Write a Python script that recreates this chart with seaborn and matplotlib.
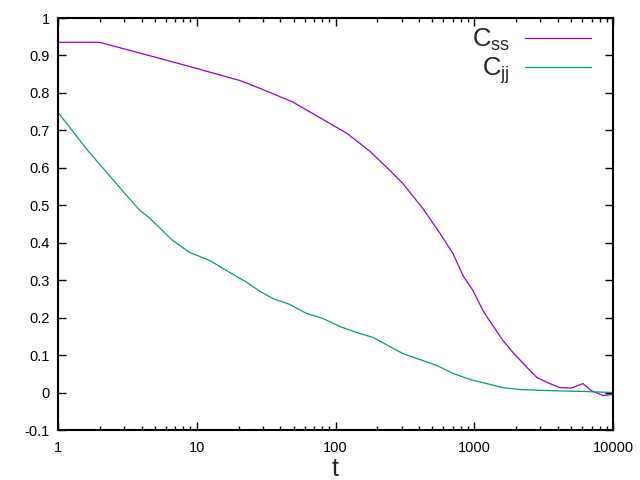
import numpy as np
import pandas as pd
import matplotlib
matplotlib.use('Agg')
import matplotlib.pyplot as plt
from matplotlib.ticker import FixedLocator, LogLocator, NullFormatter, FuncFormatter
import seaborn as sns

# values
t_ss = [1, 2, 7, 20.5, 28.6, 49, 77, 121, 177, 239, 306, 427, 566, 703, 830,
        980, 1156, 1298, 1611, 1900, 2400, 2830, 3500, 4150, 5000, 6080, 7000,
        8470, 10000]
c_ss = [0.935, 0.935, 0.881, 0.833, 0.812, 0.776, 0.734, 0.692, 0.644, 0.598,
        0.558, 0.491, 0.425, 0.371, 0.312, 0.272, 0.219, 0.190, 0.139, 0.107,
        0.067, 0.040, 0.024, 0.013, 0.012, 0.024, 0.005, -0.008, -0.005]

t_jj = [1, 1.64, 2.18, 3.04, 3.9, 4.6, 6.7, 8.9, 12.5, 17.4, 23, 28.6, 35.4, 47,
        62, 81, 108, 143, 187, 306, 540, 703, 930, 1611, 2140, 3516, 6000, 10000]
c_jj = [0.748, 0.646, 0.593, 0.531, 0.486, 0.465, 0.406, 0.374, 0.352, 0.320,
        0.294, 0.270, 0.251, 0.235, 0.211, 0.198, 0.176, 0.160, 0.147, 0.104,
        0.072, 0.051, 0.035, 0.013, 0.008, 0.005, 0.003, 0.0]

x_ticks = [1, 10, 100, 1000, 10000]
y_ticks = [-0.1, 0, 0.1, 0.2, 0.3, 0.4, 0.5, 0.6, 0.7, 0.8, 0.9, 1]

sns.set_theme(style='ticks')
plt.rcParams['font.family'] = ['Liberation Sans', 'DejaVu Sans']
plt.rcParams['mathtext.fontset'] = 'custom'
plt.rcParams['mathtext.rm'] = 'Liberation Sans'
plt.rcParams['mathtext.it'] = 'Liberation Sans'

df_ss = pd.DataFrame({'t': t_ss, 'C': c_ss})
df_jj = pd.DataFrame({'t': t_jj, 'C': c_jj})

fig = plt.figure(figsize=(6.4, 4.8), dpi=100)
ax = fig.add_axes([58 / 640, 1 - 430 / 480, (613 - 58) / 640, (430 - 18) / 480])
ax.set_xscale('log')

sns.lineplot(data=df_ss, x='t', y='C', ax=ax, color='#9400d3', linewidth=0.9,
             label=r'$\mathrm{C_{ss}}$', sort=False)
sns.lineplot(data=df_jj, x='t', y='C', ax=ax, color='#009e73', linewidth=0.9,
             label=r'$\mathrm{C_{jj}}$', sort=False)

ax.set_xlim(1, 10000)
ax.set_ylim(-0.1, 1)
ax.xaxis.set_major_locator(FixedLocator(x_ticks))
ax.xaxis.set_major_formatter(FuncFormatter(lambda v, p: '%d' % v))
ax.xaxis.set_minor_locator(LogLocator(base=10, subs=np.arange(2, 10)))
ax.xaxis.set_minor_formatter(NullFormatter())
ax.yaxis.set_major_locator(FixedLocator(y_ticks))
ax.yaxis.set_major_formatter(FuncFormatter(lambda v, p: '%g' % round(v, 2)))

ax.tick_params(which='both', direction='in', top=True, right=True,
               labelsize=10.5, color='black', labelcolor='black')
ax.tick_params(which='major', length=6, width=1)
ax.tick_params(which='minor', length=3, width=1)
ax.tick_params(axis='y', pad=6)
ax.tick_params(axis='x', pad=8)
for s in ax.spines.values():
    s.set_linewidth(1.5)
    s.set_color('black')

ax.set_xlabel('t', fontsize=18, labelpad=1)
ax.set_ylabel('')

ax.legend(loc='upper right', bbox_to_anchor=(0.96, 0.978), frameon=False,
          markerfirst=False, fontsize=18.5, handlelength=2.55, handletextpad=0.6,
          labelspacing=0.08, borderaxespad=0, borderpad=0)

fig.savefig('out.png', dpi=100)
